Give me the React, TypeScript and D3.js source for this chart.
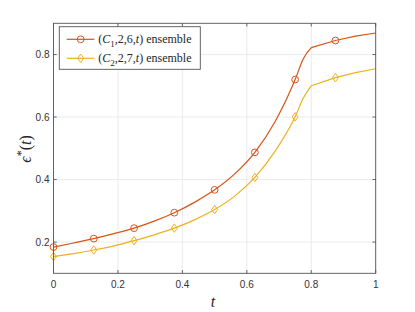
import React from 'react'
import * as d3 from 'd3'

// sample times and the two ensembles
const tValues = [0, 0.0625, 0.125, 0.1875, 0.25, 0.3125, 0.375, 0.4375, 0.5, 0.5625, 0.625, 0.6875, 0.75, 0.775, 0.8, 0.875, 0.9375, 1]
const ensemble1 = [0.184, 0.197, 0.211, 0.227, 0.2445, 0.267, 0.294, 0.327, 0.367, 0.418, 0.487, 0.585, 0.72, 0.786, 0.822, 0.845, 0.859, 0.869]
const ensemble2 = [0.1536, 0.163, 0.1746, 0.188, 0.2045, 0.223, 0.2445, 0.271, 0.304, 0.347, 0.4067, 0.49, 0.6006, 0.66, 0.7, 0.726, 0.742, 0.7545]
const markerTimes = [0, 0.125, 0.25, 0.375, 0.5, 0.625, 0.75, 0.875]
const kneeTime = 0.8

const xTicks = [0, 0.2, 0.4, 0.6, 0.8, 1]
const yTicks = [0.2, 0.4, 0.6, 0.8]

const orange = '#D95319'
const yellow = '#EDB120'
const axisColor = '#555'

const W = 415
const H = 312
const box = { left: 53.5, right: 375.7, top: 23.3, bottom: 273.3 }

const App = () => {
  const x = d3.scaleLinear().domain([0, 1]).range([box.left, box.right])
  const y = d3.scaleLinear().domain([0.1, 0.9]).range([box.bottom, box.top])

  const knee = tValues.indexOf(kneeTime)
  const smooth = d3.line<[number, number]>().x(d => x(d[0])).y(d => y(d[1])).curve(d3.curveMonotoneX)
  const straight = d3.line<[number, number]>().x(d => x(d[0])).y(d => y(d[1]))

  // smooth rise up to the knee, straight segments after it
  const seriesPath = (vals: number[]) => {
    const pts = tValues.map((t, i) => [t, vals[i]] as [number, number])
    return (smooth(pts.slice(0, knee + 1)) || '') + ' ' + (straight(pts.slice(knee)) || '')
  }

  const marks = (vals: number[]) =>
    markerTimes.map(t => ({ t, v: vals[tValues.indexOf(t)] }))

  const tickLen = 3.2

  return (
    <svg width={W} height={H} style={{ position: 'absolute', left: 0, top: 0, background: '#fff' }}>
      {/* grid */}
      <g stroke="#e6e6e6" strokeWidth={0.8}>
        {xTicks.map(t => <line key={'gx' + t} x1={x(t)} x2={x(t)} y1={box.top} y2={box.bottom} />)}
        {yTicks.map(t => <line key={'gy' + t} x1={box.left} x2={box.right} y1={y(t)} y2={y(t)} />)}
      </g>

      {/* series */}
      <path d={seriesPath(ensemble1)} fill="none" stroke={orange} strokeWidth={1.2} strokeLinejoin="round" />
      <path d={seriesPath(ensemble2)} fill="none" stroke={yellow} strokeWidth={1.2} strokeLinejoin="round" />
      {marks(ensemble1).map(d => (
        <circle key={'c' + d.t} cx={x(d.t)} cy={y(d.v)} r={3.4} fill="none" stroke={orange} strokeWidth={1} />
      ))}
      {marks(ensemble2).map(d => {
        const cx = x(d.t), cy = y(d.v)
        return <path key={'d' + d.t} d={`M${cx},${cy - 4.2}L${cx + 3},${cy}L${cx},${cy + 4.2}L${cx - 3},${cy}Z`} fill="none" stroke={yellow} strokeWidth={1} />
      })}

      {/* box + ticks */}
      <rect x={box.left} y={box.top} width={box.right - box.left} height={box.bottom - box.top} fill="none" stroke={axisColor} strokeWidth={0.9} />
      <g stroke={axisColor} strokeWidth={0.9}>
        {xTicks.map(t => (
          <g key={'tx' + t}>
            <line x1={x(t)} x2={x(t)} y1={box.bottom} y2={box.bottom - tickLen} />
            <line x1={x(t)} x2={x(t)} y1={box.top} y2={box.top + tickLen} />
          </g>
        ))}
        {yTicks.map(t => (
          <g key={'ty' + t}>
            <line x1={box.left} x2={box.left + tickLen} y1={y(t)} y2={y(t)} />
            <line x1={box.right} x2={box.right - tickLen} y1={y(t)} y2={y(t)} />
          </g>
        ))}
      </g>

      {/* tick labels */}
      <g fontFamily="'Liberation Sans', Arial, sans-serif" fontSize={10} fill="#333">
        {xTicks.map(t => (
          <text key={'lx' + t} x={x(t)} y={box.bottom + 15} textAnchor="middle">{d3.format('~g')(t)}</text>
        ))}
        {yTicks.map(t => (
          <text key={'ly' + t} x={box.left - 4} y={y(t) + 3.5} textAnchor="end">{d3.format('.1f')(t)}</text>
        ))}
      </g>

      {/* axis labels */}
      <text x={213} y={307} textAnchor="middle" fontFamily="'Liberation Serif', serif" fontStyle="italic" fontSize={16} fill="#262626">t</text>
      <text transform="translate(31,149) rotate(-90)" textAnchor="middle" fontFamily="'Liberation Serif', serif" fontSize={16} fill="#262626">
        <tspan fontStyle="italic">ϵ</tspan>
        <tspan dy={-6} fontSize={12}>*</tspan>
        <tspan dy={6}>(</tspan>
        <tspan fontStyle="italic">t</tspan>
        <tspan>)</tspan>
      </text>

      {/* legend */}
      <g>
        <rect x={59.3} y={26.7} width={141} height={42.6} fill="#fff" stroke={axisColor} strokeWidth={0.9} />
        {[
          { color: orange, sub: '1', rest: ',2,6,', yy: 39.3, kind: 'circle' },
          { color: yellow, sub: '2', rest: ',2,7,', yy: 58.3, kind: 'diamond' },
        ].map(e => (
          <g key={e.sub}>
            <line x1={66.7} x2={94.3} y1={e.yy} y2={e.yy} stroke={e.color} strokeWidth={1.2} />
            {e.kind === 'circle'
              ? <circle cx={80.7} cy={e.yy} r={3.4} fill="none" stroke={e.color} strokeWidth={1} />
              : <path d={`M80.7,${e.yy - 4.2}L83.7,${e.yy}L80.7,${e.yy + 4.2}L77.7,${e.yy}Z`} fill="none" stroke={e.color} strokeWidth={1} />}
            <text x={98.3} y={e.yy + 4} fontFamily="'Liberation Serif', serif" fontSize={12} fill="#262626">
              <tspan>(</tspan>
              <tspan fontStyle="italic">C</tspan>
              <tspan dy={3.5} fontSize={9}>{e.sub}</tspan>
              <tspan dy={-3.5}>{e.rest}</tspan>
              <tspan fontStyle="italic">t</tspan>
              <tspan>) ensemble</tspan>
            </text>
          </g>
        ))}
      </g>
    </svg>
  )
}

export default App
